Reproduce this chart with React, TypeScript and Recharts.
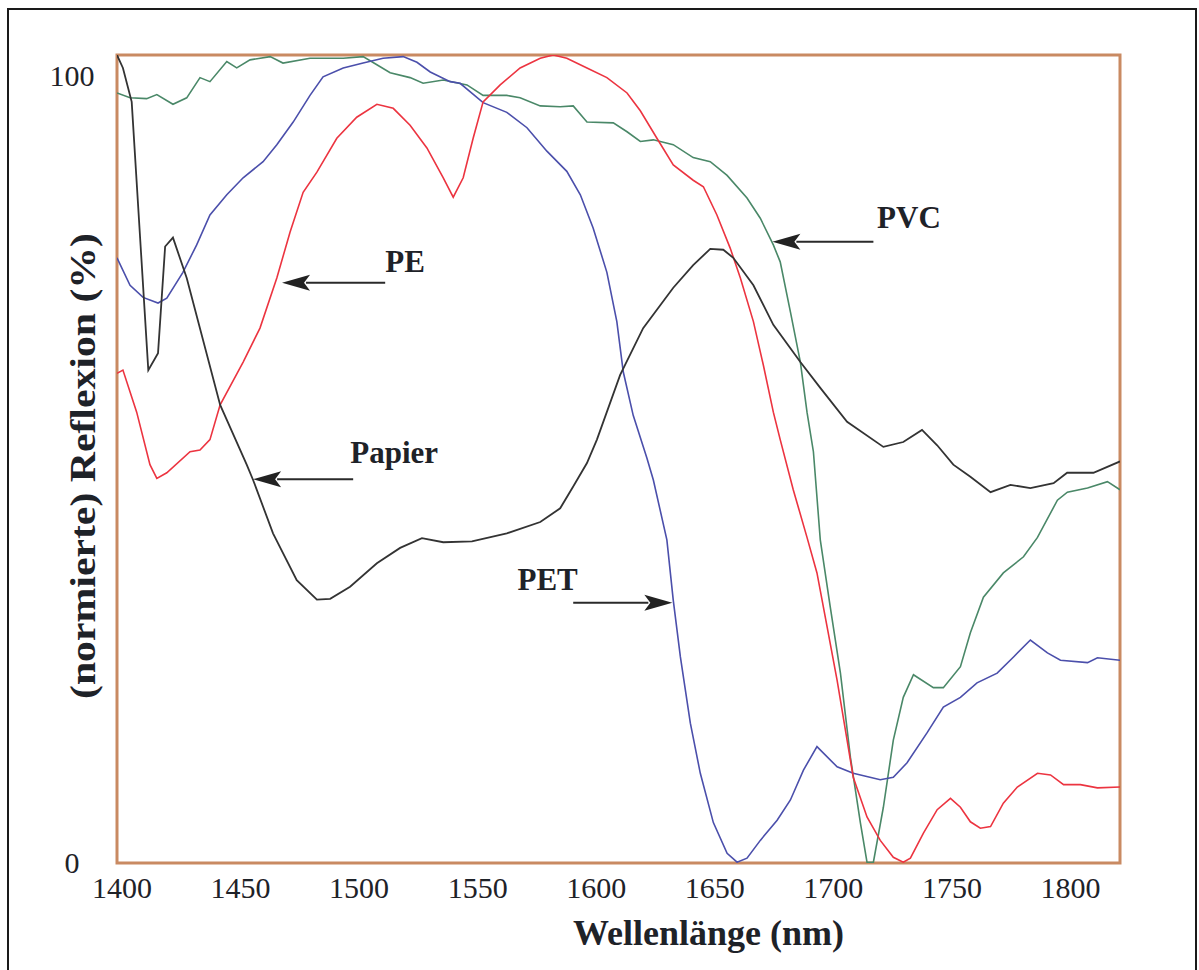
import React from 'react';
import { LineChart, Line, XAxis, YAxis, ReferenceArea, ReferenceLine, ReferenceDot } from 'recharts';

// ---------- data ----------
const xTicks = [1400, 1450, 1500, 1550, 1600, 1650, 1700, 1750, 1800];
const yTicks = [0, 100];
const yMinorTicks = [10, 20, 30, 40, 50, 60, 70, 80, 90];

const papierNm = [1400, 1402.5, 1406.2, 1413.2, 1417.3, 1420.3, 1423.6, 1429.4, 1443.5, 1454.7, 1457.4, 1465.8, 1475.8, 1484.3, 1489.9, 1498.3, 1509.6, 1519.4, 1528.6, 1537.6, 1549.7, 1564.4, 1578.5, 1586.9, 1592.4, 1598.2, 1602.4, 1612.2, 1621.9, 1634.6, 1643.0, 1650.2, 1655.7, 1659.9, 1668.4, 1676.8, 1688.2, 1696.6, 1707.9, 1723.2, 1731.6, 1739.5, 1745.9, 1752.7, 1759.9, 1768.4, 1776.8, 1785.2, 1795.0, 1800.7, 1811.8, 1823];
const papierR = [100, 98.4, 94.2, 61.0, 63.1, 76.3, 77.4, 72.4, 56.7, 49.3, 47.4, 40.8, 35.0, 32.6, 32.7, 34.2, 37.1, 39.0, 40.2, 39.7, 39.8, 40.8, 42.2, 43.9, 46.6, 49.5, 52.4, 60.4, 66.2, 71.2, 74.0, 76.0, 75.9, 74.9, 71.5, 66.6, 62.0, 58.8, 54.6, 51.5, 52.1, 53.6, 51.7, 49.3, 47.8, 45.9, 46.8, 46.4, 47.0, 48.3, 48.3, 49.7];

const peNm = [1400, 1402.5, 1408.3, 1413.9, 1416.8, 1421.0, 1430.8, 1435.0, 1439.2, 1443.5, 1453.2, 1460.3, 1467.4, 1473.0, 1478.5, 1484.3, 1492.7, 1501.1, 1509.6, 1516.5, 1523.6, 1530.7, 1537.6, 1541.8, 1546.0, 1550.2, 1554.4, 1561.6, 1570.0, 1578.5, 1584.0, 1589.7, 1598.2, 1606.6, 1615.1, 1620.7, 1627.7, 1634.6, 1643.0, 1647.3, 1653.0, 1658.6, 1662.9, 1668.4, 1672.6, 1676.8, 1679.7, 1685.2, 1691.0, 1695.2, 1699.5, 1703.7, 1707.9, 1710.5, 1716.3, 1721.9, 1727.4, 1731.6, 1734.6, 1740.1, 1745.9, 1751.5, 1755.7, 1759.9, 1764.1, 1768.4, 1773.8, 1779.7, 1788.2, 1793.7, 1799.2, 1806.3, 1813.5, 1823];
const peR = [60.6, 61.0, 55.8, 49.3, 47.6, 48.3, 50.9, 51.1, 52.4, 56.7, 62.0, 66.2, 72.4, 78.1, 83.0, 85.5, 89.7, 92.3, 93.9, 93.4, 91.3, 88.5, 84.8, 82.4, 84.8, 89.7, 94.2, 96.3, 98.4, 99.6, 100, 99.6, 98.4, 97.2, 95.3, 93.1, 89.7, 86.4, 84.5, 83.7, 80.2, 76.1, 72.4, 67.0, 61.6, 55.8, 52.4, 46.2, 40.3, 35.9, 29.2, 22.6, 15.2, 10.6, 5.7, 2.8, 0.7, 0.1, 0.6, 3.7, 6.6, 8.0, 6.9, 5.1, 4.3, 4.5, 7.4, 9.4, 11.1, 10.9, 9.7, 9.7, 9.3, 9.4];

const petNm = [1400, 1405.5, 1411.0, 1417.3, 1421.0, 1427.8, 1433.6, 1439.2, 1446.3, 1453.2, 1461.6, 1467.4, 1474.3, 1481.4, 1486.9, 1495.4, 1503.8, 1512.2, 1520.7, 1526.5, 1532.1, 1540.5, 1544.7, 1554.4, 1564.4, 1572.9, 1581.3, 1589.7, 1595.4, 1600.8, 1606.6, 1610.8, 1613.5, 1617.7, 1623.5, 1626.2, 1631.9, 1634.6, 1637.6, 1641.8, 1646.0, 1651.5, 1657.3, 1661.5, 1665.7, 1671.3, 1678.4, 1684.0, 1689.5, 1695.2, 1703.7, 1710.5, 1721.9, 1727.4, 1733.2, 1741.6, 1748.5, 1755.7, 1762.7, 1771.2, 1778.1, 1785.2, 1792.4, 1797.9, 1809.3, 1813.5, 1823];
const petR = [74.9, 71.5, 70.0, 69.3, 69.9, 73.1, 76.5, 80.2, 82.7, 84.8, 86.8, 88.9, 91.7, 95.0, 97.3, 98.4, 99.0, 99.6, 99.8, 99.1, 97.9, 96.7, 96.5, 94.1, 92.9, 91.0, 88.1, 85.6, 82.7, 78.6, 73.1, 67.0, 60.8, 55.4, 50.1, 47.4, 40.0, 32.5, 25.5, 17.3, 11.1, 5.0, 1.2, 0.1, 0.6, 2.8, 5.3, 7.8, 11.5, 14.4, 11.9, 11.1, 10.3, 10.6, 12.4, 16.1, 19.3, 20.5, 22.3, 23.5, 25.5, 27.6, 26.0, 25.1, 24.8, 25.4, 25.1];

const pvcNm = [1400, 1405.5, 1412.5, 1416.8, 1423.6, 1429.4, 1435.0, 1439.2, 1446.3, 1450.5, 1456.1, 1464.6, 1470.0, 1481.4, 1495.4, 1503.8, 1509.6, 1515.2, 1523.6, 1529.1, 1537.6, 1547.6, 1554.4, 1564.4, 1570.0, 1578.5, 1586.9, 1592.4, 1598.2, 1609.3, 1615.1, 1620.7, 1626.2, 1634.6, 1643.0, 1650.2, 1657.3, 1665.7, 1671.3, 1676.8, 1679.7, 1684.0, 1688.2, 1691.0, 1693.7, 1696.6, 1700.8, 1705.1, 1709.3, 1713.5, 1716.3, 1719.0, 1723.2, 1727.4, 1731.6, 1735.9, 1744.3, 1748.5, 1755.7, 1759.9, 1765.4, 1773.8, 1782.3, 1788.2, 1796.6, 1800.8, 1809.3, 1817.7, 1823];
const pvcR = [95.3, 94.7, 94.6, 95.1, 93.9, 94.7, 97.2, 96.7, 99.2, 98.4, 99.4, 99.8, 99.0, 99.6, 99.6, 99.8, 98.8, 97.8, 97.2, 96.5, 96.9, 96.3, 95.0, 95.0, 94.7, 93.7, 93.6, 93.7, 91.7, 91.6, 90.5, 89.3, 89.5, 88.9, 87.3, 86.8, 85.1, 82.3, 79.8, 76.5, 74.4, 68.2, 62.0, 55.8, 50.9, 40.0, 31.7, 23.5, 13.1, 5.0, 0.1, 0.1, 6.9, 15.2, 20.5, 23.3, 21.7, 21.7, 24.3, 28.5, 32.9, 35.9, 37.9, 40.3, 44.9, 45.9, 46.4, 47.2, 46.2];

const annotations = [
  { label: 'PE', textNm: 1521.5, textR: 73.1, fromNm: 1513.1, toNm: 1469.6, arrowR: 71.8 },
  { label: 'Papier', textNm: 1516.9, textR: 49.5, fromNm: 1499.6, toNm: 1457.4, arrowR: 47.5 },
  { label: 'PET', textNm: 1581.6, textR: 33.8, fromNm: 1592.4, toNm: 1634.2, arrowR: 32.2 },
  { label: 'PVC', textNm: 1734.0, textR: 78.6, fromNm: 1719.0, toNm: 1676.4, arrowR: 76.9 },
];

const toRows = (nm: number[], r: number[]) => nm.map((x, i) => ({ nm: x, r: r[i] }));
const papierData = toRows(papierNm, papierR);
const peData = toRows(peNm, peR);
const petData = toRows(petNm, petR);
const pvcData = toRows(pvcNm, pvcR);

const SERIF = "'Liberation Serif', 'DejaVu Serif', 'Times New Roman', serif";
const TEXT = '#1e2228';

const XTick = (props: any) => {
  const { x, y, payload } = props;
  return (
    <text x={x + 5} y={y + 35} textAnchor="middle" fontSize={30} fontFamily={SERIF} fill={TEXT}>
      {payload.value}
    </text>
  );
};

const YTick = (props: any) => {
  const { x, y, payload } = props;
  const dy = payload.value === 100 ? 31 : 10;
  return (
    <text x={x - 45} y={y + dy} textAnchor="middle" fontSize={30} fontFamily={SERIF} fill={TEXT}>
      {payload.value}
    </text>
  );
};

const NoTick = () => <g />;

const ArrowShape = (props: any) => {
  const { x1, y1, x2, y2 } = props;
  const len = Math.hypot(x2 - x1, y2 - y1) || 1;
  const dx = (x2 - x1) / len;
  const dy = (y2 - y1) / len;
  const headLen = 28;
  const half = 8;
  const bx = x2 - dx * headLen;
  const by = y2 - dy * headLen;
  const px = -dy * half;
  const py = dx * half;
  return (
    <g>
      <line x1={x1} y1={y1} x2={bx + dx * 4} y2={by + dy * 4} stroke="#2a2a2a" strokeWidth={2} />
      <polygon points={`${x2},${y2} ${bx + px},${by + py} ${bx + dx * 6},${by + dy * 6} ${bx - px},${by - py}`} fill="#222" />
    </g>
  );
};

const makeLabel = (text: string) => (props: any) => {
  const { cx, cy } = props;
  return (
    <text x={cx} y={cy} textAnchor="middle" fontSize={31} fontWeight="bold" fontFamily={SERIF} fill={TEXT}>
      {text}
    </text>
  );
};

export default function App() {
  return (
    <div style={{ position: 'absolute', left: 0, top: 0, width: 1199, height: 970, overflow: 'hidden', background: '#fff' }}>
      <div
        style={{
          position: 'absolute',
          left: 7,
          top: 8,
          width: 1190,
          height: 1000,
          border: '2px solid #1a1a1a',
          boxSizing: 'border-box',
        }}
      />
      <div style={{ position: 'absolute', left: 0, top: 0 }}>
        <LineChart width={1199} height={970} margin={{ top: 55, right: 79, bottom: 0, left: 0 }}>
          <XAxis
            type="number"
            dataKey="nm"
            domain={[1400, 1823]}
            ticks={xTicks}
            allowDataOverflow
            height={107}
            axisLine={false}
            tickLine={false}
            tickSize={0}
            tickMargin={0}
            tick={<XTick />}
            interval={0}
            label={{
              content: (p: any) => {
                const vb = p.viewBox || { x: 117, y: 863, width: 1003, height: 107 };
                return (
                  <text
                    x={vb.x + vb.width / 2 + 90}
                    y={vb.y + 82}
                    textAnchor="middle"
                    fontSize={36}
                    fontWeight="bold"
                    fontFamily={SERIF}
                    fill={TEXT}
                  >
                    Wellenlänge (nm)
                  </text>
                );
              },
            }}
          />
          <YAxis
            type="number"
            domain={[0, 100]}
            ticks={yTicks}
            allowDataOverflow
            width={117}
            axisLine={false}
            tickLine={false}
            tickSize={0}
            tickMargin={0}
            tick={<YTick />}
            interval={0}
            label={{
              content: (p: any) => {
                const vb = p.viewBox || { x: 0, y: 55, width: 117, height: 808 };
                const cx = vb.x + 83;
                const cy = vb.y + vb.height / 2 + 7;
                return (
                  <text
                    x={cx}
                    y={cy}
                    transform={`rotate(-90, ${cx}, ${cy})`}
                    textAnchor="middle"
                    dominantBaseline="central"
                    fontSize={36}
                    fontWeight="bold"
                    fontFamily={SERIF}
                    fill={TEXT}
                    textLength={466}
                    lengthAdjust="spacingAndGlyphs"
                  >
                    (normierte) Reflexion (%)
                  </text>
                );
              },
            }}
          />
          <ReferenceArea x1={1400} x2={1823} y1={0} y2={100} fill="none" stroke="#c98a62" strokeWidth={3} ifOverflow="visible" />
          <YAxis
            yAxisId="minor"
            type="number"
            domain={[0, 100]}
            ticks={yMinorTicks}
            width={0}
            axisLine={false}
            tickLine={{ stroke: '#f3e6de', strokeWidth: 1.2 }}
            tickSize={2}
            tick={<NoTick />}
            interval={0}
            mirror
          />
          <Line data={pvcData} dataKey="r" type="linear" stroke="#4a8868" strokeWidth={1.6} dot={false} isAnimationActive={false} />
          <Line data={petData} dataKey="r" type="linear" stroke="#4b4fab" strokeWidth={1.6} dot={false} isAnimationActive={false} />
          <Line data={peData} dataKey="r" type="linear" stroke="#ec3440" strokeWidth={1.6} dot={false} isAnimationActive={false} />
          <Line data={papierData} dataKey="r" type="linear" stroke="#333333" strokeWidth={1.8} dot={false} isAnimationActive={false} />
          {annotations.map((a) => (
            <ReferenceLine
              key={'arrow-' + a.label}
              segment={[{ x: a.fromNm, y: a.arrowR }, { x: a.toNm, y: a.arrowR }]}
              shape={ArrowShape}
              ifOverflow="visible"
            />
          ))}
          {annotations.map((a) => (
            <ReferenceDot
              key={'label-' + a.label}
              x={a.textNm}
              y={a.textR}
              r={0}
              shape={makeLabel(a.label)}
              ifOverflow="visible"
            />
          ))}
        </LineChart>
      </div>
    </div>
  );
}
